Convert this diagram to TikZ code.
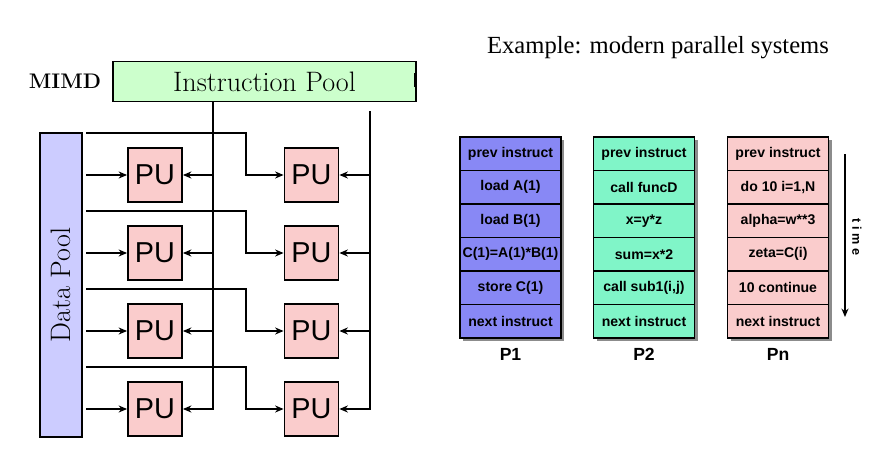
\documentclass[tikz,border=0pt]{standalone}
\usepackage{fontspec}
\newfontfamily\titlefont{Liberation Serif}
\newfontfamily\tabfont{Liberation Sans}
\newfontfamily\timefont[LetterSpace=30]{Liberation Sans}
\usetikzlibrary{arrows.meta,positioning}
\definecolor{ipoolgreen}{RGB}{204,255,204}
\definecolor{dpoolblue}{RGB}{204,204,255}
\definecolor{pupink}{RGB}{250,204,204}
\definecolor{pone}{RGB}{136,136,245}
\definecolor{ptwo}{RGB}{128,245,200}
\definecolor{pn}{RGB}{250,204,204}

\begin{document}
\begin{tikzpicture}[x=0.025cm,y=-0.025cm,>={Stealth[length=6pt,width=5pt]},
  pool/.style={draw,line width=1.3pt,inner sep=0pt},
  pu/.style={draw,line width=1.3pt,fill=pupink,minimum size=1.35cm,inner sep=0pt,
    font=\tabfont\fontsize{20.5}{20.5}\selectfont},
  link/.style={line width=1.7pt},
  cell/.style={draw,line width=1.2pt,minimum width=2.525cm,minimum height=0.8375cm,inner sep=0pt,
    font=\tabfont\bfseries\fontsize{10}{10}\selectfont},
  plabel/.style={font=\tabfont\bfseries\fontsize{12.5}{12.5}\selectfont},
  shade/.style={fill=black!45}]
\useasboundingbox (0,0) rectangle (889,455);

% MIMD side
\node[font=\bfseries\fontsize{15}{15}\selectfont] (mimd) at (65,81) {MIMD};
\node[pool,fill=ipoolgreen,minimum width=7.575cm,minimum height=1cm,
  font=\fontsize{20}{20}\selectfont] (ipool) at (264.5,81.5) {Instruction Pool};
\draw[line width=2pt] (415,73) -- (415,87);
\node[pool,fill=dpoolblue,rotate=90,minimum width=7.6cm,minimum height=1.05cm,
  font=\fontsize{20}{20}\selectfont] (dpool) at (61,285) {Data Pool};

\coordinate (ia) at (213,102);
\coordinate (ib) at (370,111);
\coordinate (dp) at (86,285);

\foreach \r in {1,...,4}{
  \pgfmathsetmacro\yc{175+(\r-1)*78}
  \node[pu] (puL\r) at (155,\yc) {PU};
  \node[pu] (puR\r) at (311.5,\yc) {PU};
  \coordinate (dR\r) at (86,\yc-42);
  \coordinate (bend\r) at (246,\yc);
  \draw[link,->] (puL\r.west -| dp) -- (puL\r.west);
  \draw[link,->] (dR\r) -| (bend\r) -- (puR\r.west);
}
\draw[link,->] (ia) |- (puL4.east);
\draw[link,->] (ib) |- (puR4.east);
\foreach \r in {1,2,3}{
  \draw[link,->] (puL\r.east -| ia) -- (puL\r.east);
  \draw[link,->] (puR\r.east -| ib) -- (puR\r.east);
}

% example side
\node[font=\titlefont\fontsize{17.5}{18}\selectfont] (title) at (658,48) {Example: modern parallel systems};

\fill[shade] (463,140) rectangle (564,341);
\fill[shade] (596.5,140) rectangle (697.5,341);
\fill[shade] (730.5,140) rectangle (831.5,341);

\foreach \txt [count=\i] in {prev instruct, load A(1), load B(1), C(1)=A(1)*B(1), store C(1), next instruct}
  \node[cell,fill=pone] (pa\i) at (510.5,{137+33.5*(\i-0.5)}) {\txt};
\foreach \txt [count=\i] in {prev instruct, call funcD, x=y*z, sum=x*2, {call sub1(i,j)}, next instruct}
  \node[cell,fill=ptwo] (pb\i) at (644,{137+33.5*(\i-0.5)}) {\txt};
\foreach \txt [count=\i] in {prev instruct, {do 10 i=1,N}, alpha=w**3, zeta=C(i), 10 continue, next instruct}
  \node[cell,fill=pn] (pc\i) at (778,{137+33.5*(\i-0.5)}) {\txt};

\node[plabel] (lab1) at (510.5,354) {P1};
\node[plabel] (lab2) at (644,354) {P2};
\node[plabel] (lab3) at (778,354) {Pn};

\coordinate (tA) at (845,154);
\coordinate (tB) at (845,317);
\draw[line width=1.2pt,->] (tA) -- (tB);
\node[font=\timefont\bfseries\fontsize{9}{9}\selectfont,rotate=-90] (time) at (857,237) {time};
\end{tikzpicture}
\end{document}
